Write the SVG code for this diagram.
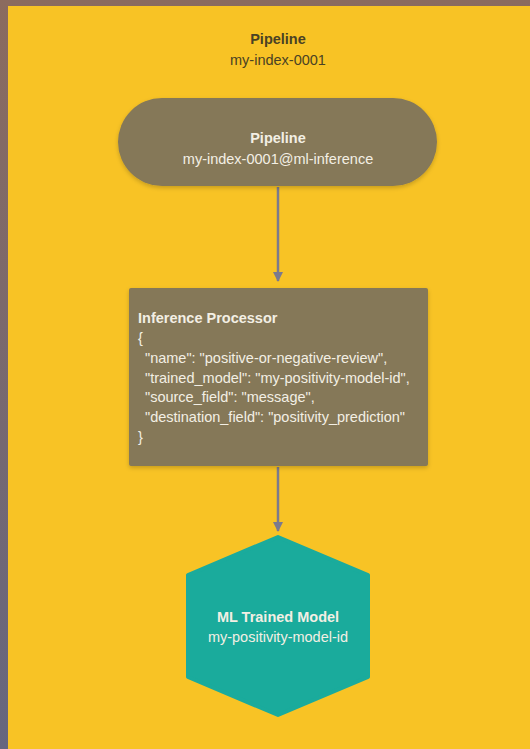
<svg xmlns="http://www.w3.org/2000/svg" width="530" height="749" viewBox="0 0 530 749">
<defs>
<linearGradient id="frame" x1="0" y1="0" x2="0" y2="1">
<stop offset="0" stop-color="#8b6b5f"/>
<stop offset="1" stop-color="#66667f"/>
</linearGradient>
<filter id="sh" x="-10%" y="-10%" width="120%" height="130%">
<feDropShadow dx="0" dy="2" stdDeviation="2" flood-color="#000" flood-opacity="0.2"/>
</filter>
<marker id="arr" viewBox="0 0 10 10" refX="9" refY="5" markerWidth="4" markerHeight="4" orient="auto" markerUnits="strokeWidth">
<path d="M0,0 L10,5 L0,10 z" fill="#7b7a8e"/>
</marker>
</defs>
<style>
text{font-family:"Liberation Sans",Arial,sans-serif;font-size:14.5px}
.b{font-weight:bold}
.dark{fill:#4a4224}
.lt{fill:#f3efe4}
.c{text-anchor:middle}
.node{fill:#857859}
.edge{stroke:#7b7a8e;stroke-width:2.5;fill:none}
</style>
<rect x="0" y="0" width="530" height="749" fill="url(#frame)"/>
<rect x="8" y="6" width="522" height="743" fill="#f8c325"/>
<g id="title">
<text class="b dark c" x="278" y="44">Pipeline</text>
<text class="dark c" x="278" y="65">my-index-0001</text>
</g>
<g id="connectors">
<line class="edge" x1="278" y1="187" x2="278" y2="281" marker-end="url(#arr)"/>
<line class="edge" x1="278" y1="467" x2="278" y2="531" marker-end="url(#arr)"/>
</g>
<g id="pipeline">
<rect class="node" x="118" y="98" width="319" height="88" rx="44" filter="url(#sh)"/>
<text class="b lt c" x="278" y="143">Pipeline</text>
<text class="lt c" x="278" y="164">my-index-0001@ml-inference</text>
</g>
<g id="processor">
<rect class="node" x="129" y="288" width="299" height="178" rx="2" filter="url(#sh)"/>
<text class="b lt" x="138" y="323">Inference Processor</text>
<text class="lt" x="138" y="343">{</text>
<text class="lt" x="145" y="363">"name": "positive-or-negative-review",</text>
<text class="lt" x="145" y="383">"trained_model": "my-positivity-model-id",</text>
<text class="lt" x="145" y="402">"source_field": "message",</text>
<text class="lt" x="145" y="422">"destination_field": "positivity_prediction"</text>
<text class="lt" x="138" y="442">}</text>
</g>
<g id="model">
<polygon points="278,537 368,575 368,677 278,715 188,677 188,575" fill="#1aab9c" stroke="#1aab9c" stroke-width="4" stroke-linejoin="round"/>
<text class="b lt c" x="278" y="622">ML Trained Model</text>
<text class="lt c" x="278" y="642">my-positivity-model-id</text>
</g>
</svg>
